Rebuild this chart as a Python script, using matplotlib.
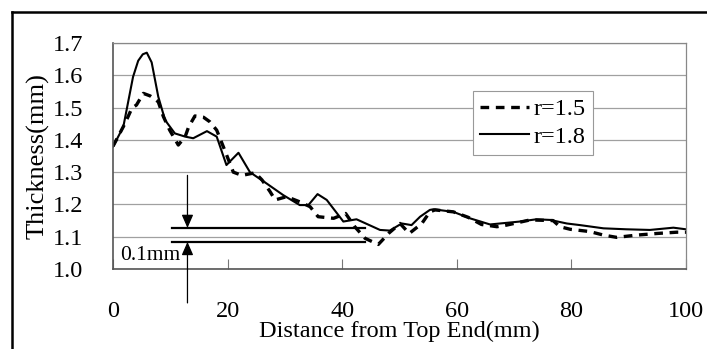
import matplotlib
matplotlib.use("Agg")
import matplotlib.pyplot as plt
from matplotlib.lines import Line2D

plt.rcParams['font.family'] = ['Liberation Serif', 'DejaVu Serif']

# r = 1.5 (dashed)
x_r15 = [0, 2.1, 3.3, 4.1, 5.3, 6.5, 7.9, 8.8, 9.9, 11.4, 12.6, 13.2, 14.3, 15.8,
         16.9, 18.1, 19.5, 21.0, 22.5, 24.8, 26.0, 27.4, 28.3, 30.3, 32.6, 34.4,
         35.8, 38.5, 40.6, 42.2, 44.0, 46.3, 48.2, 50.1, 51.7, 53.9, 55.3, 56.2,
         59.4, 62.0, 64.3, 67.0, 68.7, 72.8, 76.8, 78.0, 79.8, 83.2, 85.6, 87.9,
         91.4, 94.9, 98.4, 100]
y_r15 = [1.380, 1.451, 1.498, 1.508, 1.544, 1.536, 1.518, 1.472, 1.430, 1.384,
         1.410, 1.440, 1.474, 1.470, 1.456, 1.430, 1.368, 1.300, 1.290, 1.298,
         1.276, 1.240, 1.214, 1.224, 1.208, 1.193, 1.162, 1.157, 1.172, 1.131,
         1.095, 1.076, 1.112, 1.141, 1.110, 1.141, 1.177, 1.183, 1.177, 1.160,
         1.138, 1.131, 1.136, 1.152, 1.150, 1.131, 1.123, 1.116, 1.105, 1.098,
         1.105, 1.110, 1.114, 1.114]

# r = 1.8 (solid)
x_r18 = [0, 1.8, 3.5, 4.4, 5.2, 5.9, 6.75, 7.9, 9.1, 10.8, 12.6, 14.0, 16.4, 18.1,
         19.8, 21.9, 23.9, 26.8, 29.7, 32.6, 34.1, 35.7, 37.3, 40.2, 42.5, 46.6,
         48.3, 50.4, 52.1, 53.6, 55.3, 55.9, 59.4, 62.3, 65.8, 68.7, 71.0, 73.9,
         76.3, 79.2, 81.5, 85.6, 89.6, 93.7, 97.8, 100]
y_r18 = [1.379, 1.440, 1.595, 1.645, 1.665, 1.670, 1.640, 1.534, 1.461, 1.420,
         1.410, 1.405, 1.427, 1.410, 1.322, 1.360, 1.300, 1.265, 1.229, 1.198,
         1.198, 1.232, 1.214, 1.147, 1.154, 1.121, 1.119, 1.141, 1.136, 1.162,
         1.183, 1.185, 1.177, 1.157, 1.138, 1.143, 1.147, 1.154, 1.152, 1.141,
         1.136, 1.126, 1.123, 1.121, 1.128, 1.123]

x_ticks = [0, 20, 40, 60, 80, 100]
y_ticks = [1.0, 1.1, 1.2, 1.3, 1.4, 1.5, 1.6, 1.7]

# 0.1 mm thickness band marker
band_levels = [1.127, 1.084]
band_x = [10.3, 44.0]
arrow_x = 13.0

FS = 17.5

fig = plt.figure(figsize=(7.07, 3.49), dpi=100)
ax = fig.add_axes([0.1598, 0.2292, 0.8105, 0.6476])

ax.plot(x_r15, y_r15, color='black', lw=2.4, linestyle=(0, (2.6, 2.0)),
        label='r=1.5')
ax.plot(x_r18, y_r18, color='black', lw=1.5, label='r=1.8')

ax.set_xlim(0, 100)
ax.set_ylim(1.0, 1.7)
ax.set_xticks(x_ticks)
ax.set_yticks(y_ticks)
ax.set_yticklabels([f"{v:.1f}" for v in y_ticks])
ax.tick_params(axis='x', direction='in', length=7, width=0.8, color='#777777',
               pad=23, labelsize=FS)
ax.tick_params(axis='y', length=0, pad=21.5, labelsize=FS)
ax.grid(axis='y', color='#a0a0a0', lw=0.9)
ax.set_axisbelow(True)
for side in ['top', 'right']:
    ax.spines[side].set_color('#888888')
    ax.spines[side].set_linewidth(0.9)
for side in ['left', 'bottom']:
    ax.spines[side].set_color('#555555')
    ax.spines[side].set_linewidth(1.2)

ax.set_xlabel('Distance from Top End(mm)', fontsize=FS)
ax.set_ylabel('Thickness(mm)', fontsize=19)
ax.xaxis.set_label_coords(0.5, -0.23)
ax.yaxis.set_label_coords(-0.11, 0.5)

for lvl in band_levels:
    ax.plot(band_x, [lvl, lvl], color='black', lw=1.6)

arrow_style = dict(arrowstyle='-|>,head_length=0.8,head_width=0.35',
                   color='black', lw=0.9, shrinkA=0, shrinkB=0)
ax.annotate('', xy=(arrow_x, band_levels[0]), xytext=(arrow_x, 1.29),
            arrowprops=arrow_style)
ax.annotate('', xy=(arrow_x, band_levels[1]), xytext=(arrow_x, 0.895),
            arrowprops=arrow_style, annotation_clip=False)
ax.text(1.2, 1.027, '0.1mm', fontsize=15.5, ha='left', va='baseline')

leg = ax.legend(loc='upper left', bbox_to_anchor=(0.628, 0.788), fontsize=FS,
                frameon=True, fancybox=False, edgecolor='#999999',
                framealpha=1, handlelength=2.0, handletextpad=0.2,
                borderpad=0.3, labelspacing=0.22, borderaxespad=0)
leg.get_frame().set_linewidth(0.8)

# outer frame
fig.add_artist(Line2D([12 / 707, 12 / 707], [1 - 12 / 349, 0], color='black',
                      lw=1.8, transform=fig.transFigure))
fig.add_artist(Line2D([12 / 707, 1], [1 - 12 / 349, 1 - 12 / 349],
                      color='black', lw=1.8, transform=fig.transFigure))

fig.savefig('out.png', dpi=100)
